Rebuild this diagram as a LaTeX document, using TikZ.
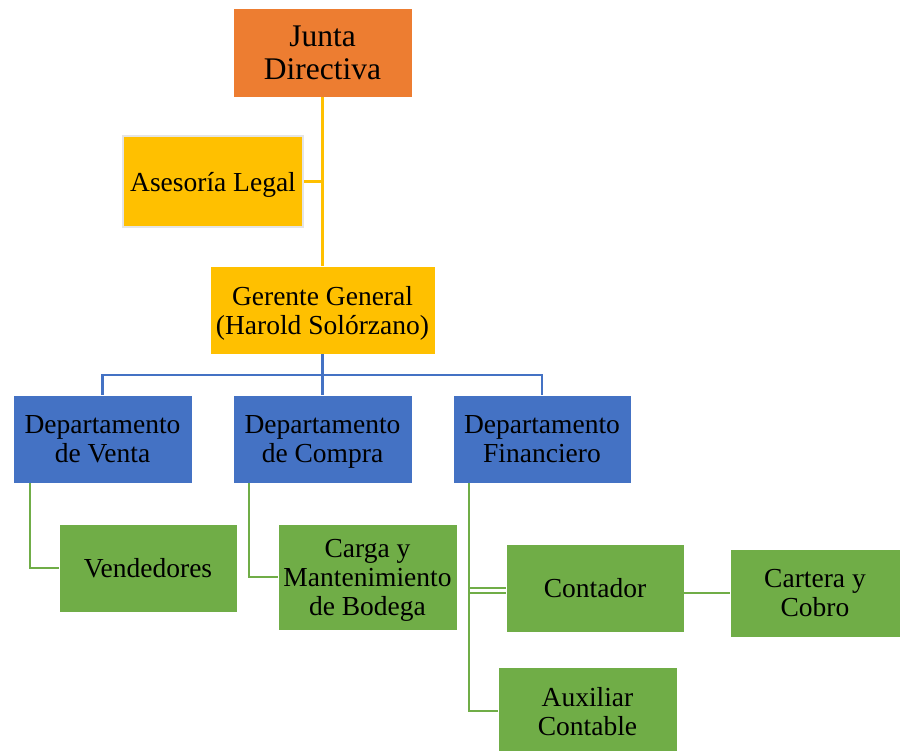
\documentclass[tikz,border=0pt]{standalone}
\usepackage{fontspec}
\setmainfont{Liberation Serif}
\usepackage{tikz}

\definecolor{naranja}{HTML}{ED7D31}
\definecolor{dorado}{HTML}{FFC000}
\definecolor{azul}{HTML}{4472C4}
\definecolor{verde}{HTML}{70AD47}

\begin{document}
\begin{tikzpicture}[x=1pt, y=-1pt,
  caja/.style={inner sep=0pt, align=center, draw=white, line width=0.8pt,
    minimum height=88pt, text depth=0pt, font=\fontsize{27.5}{29}\selectfont},
  linea/.style={line width=2.2pt}]
  \useasboundingbox (0,0) rectangle (900,751);

  % cajas
  \node[caja, fill=naranja, minimum width=179pt, minimum height=89pt,
    font=\fontsize{31.5}{33}\selectfont] (junta) at (322.5,52.5) {Junta\\Directiva};
  \node[caja, fill=dorado, draw=black!10, line width=2.5pt, minimum width=180pt,
    minimum height=91pt] (asesoria) at (213,181.5) {Asesoría Legal};
  \node[caja, fill=dorado, minimum width=225pt] (gerente) at (322.5,310)
    {Gerente General\\(Harold Solórzano)};
  \node[caja, fill=azul, minimum width=179pt] (venta) at (102.5,439) {Departamento\\de Venta};
  \node[caja, fill=azul, minimum width=179pt] (compra) at (322.5,439) {Departamento\\de Compra};
  \node[caja, fill=azul, minimum width=178pt] (financiero) at (542,439) {Departamento\\Financiero};
  \node[caja, fill=verde, minimum width=178pt] (vendedores) at (148,568) {Vendedores};
  \node[caja, fill=verde, minimum width=179pt, minimum height=106pt] (carga) at (367.5,577)
    {Carga y\\Mantenimiento\\de Bodega};
  \node[caja, fill=verde, minimum width=178pt] (contador) at (595,588) {Contador};
  \node[caja, fill=verde, minimum width=170pt] (cartera) at (815,593) {Cartera y\\Cobro};
  \node[caja, fill=verde, minimum width=179pt] (auxiliar) at (587.5,711) {Auxiliar\\Contable};

  % lineas
  \draw[linea, dorado] (junta.south) -- (gerente.north);
  \draw[linea, dorado] (asesoria.east) -- (asesoria.east -| junta.south);

  \draw[linea, azul] (gerente.south) -- ++(0,21) coordinate (nudo);
  \draw[linea, azul] (venta.north) |- (nudo) -| (financiero.north);
  \draw[linea, azul] (nudo) -- (compra.north);

  \draw[linea, verde] ([xshift=17pt]venta.south west) |- (vendedores.west);
  \draw[linea, verde] ([xshift=16pt]compra.south west) |- (carga.west);
  \draw[linea, verde] ([xshift=16pt]financiero.south west) |- (auxiliar.west);
  \draw[linea, verde] (contador.west -| auxiliar.west) ++(-29,0) -- (contador.west);
  \draw[linea, verde] ([yshift=-5pt]contador.west -| auxiliar.west) ++(-29,0)
    -- ([yshift=-5pt]contador.west);
  \draw[linea, verde] (contador.east |- cartera.west) -- (cartera.west);
\end{tikzpicture}
\end{document}
